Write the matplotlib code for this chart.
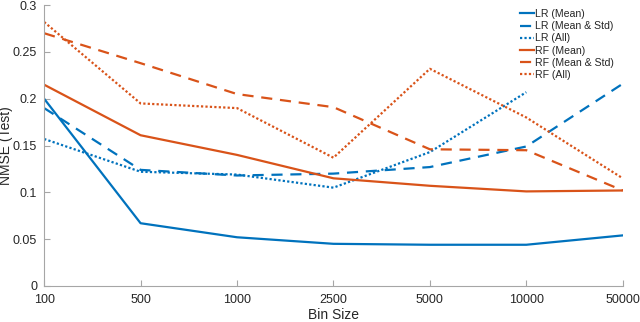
import matplotlib
matplotlib.use("Agg")
import matplotlib.pyplot as plt
import numpy as np

plt.rcParams["font.family"] = ["Liberation Sans", "DejaVu Sans"]

bins = ["100", "500", "1000", "2500", "5000", "10000", "50000"]

lr_mean = [0.200, 0.067, 0.052, 0.045, 0.044, 0.044, 0.054]
lr_mean_std = [0.190, 0.124, 0.118, 0.120, 0.127, 0.149, 0.216]
lr_all = [0.157, 0.122, 0.119, 0.105, 0.143, 0.207]
rf_mean = [0.215, 0.161, 0.140, 0.115, 0.107, 0.101, 0.102]
rf_mean_std = [0.270, 0.238, 0.205, 0.191, 0.146, 0.145, 0.102]
rf_all = [0.282, 0.195, 0.190, 0.137, 0.232, 0.180, 0.115]

blue = "#0072BD"
orange = "#D95319"

fig = plt.figure(figsize=(6.4, 3.22), dpi=100)
ax = fig.add_axes([0.069, 0.112, 0.904, 0.872])

x = np.arange(len(bins))
lw = 1.6
ax.plot(x, lr_mean, color=blue, lw=lw, ls="-", label="LR (Mean)")
ax.plot(x, lr_mean_std, color=blue, lw=lw, ls=(0, (5, 3.5)), label="LR (Mean & Std)")
ax.plot(x[:len(lr_all)], lr_all, color=blue, lw=lw, ls=(0, (1, 1)), label="LR (All)")
ax.plot(x, rf_mean, color=orange, lw=lw, ls="-", label="RF (Mean)")
ax.plot(x, rf_mean_std, color=orange, lw=lw, ls=(0, (5, 3.5)), label="RF (Mean & Std)")
ax.plot(x, rf_all, color=orange, lw=lw, ls=(0, (1, 1)), label="RF (All)")

ax.set_xlim(0, len(bins) - 1)
ax.set_ylim(0, 0.3)
ax.set_xticks(x)
ax.set_xticklabels(bins)
ax.set_yticks([0, 0.05, 0.1, 0.15, 0.2, 0.25, 0.3])
ax.set_yticklabels(["0", "0.05", "0.1", "0.15", "0.2", "0.25", "0.3"])

for s in ["top", "right"]:
    ax.spines[s].set_visible(False)
for s in ["left", "bottom"]:
    ax.spines[s].set_color("#a6a6a6")
    ax.spines[s].set_linewidth(0.8)
ax.tick_params(direction="in", length=4, color="#a6a6a6", labelsize=9,
               labelcolor="#262626")
ax.tick_params(axis="y", pad=5)
ax.tick_params(axis="x", pad=6)

ax.set_xlabel("Bin Size", fontsize=10, color="#262626", labelpad=1)
ax.set_ylabel("NMSE (Test)", fontsize=10, color="#262626")
ax.yaxis.set_label_coords(-0.053, 0.5)

leg = ax.legend(loc="upper right", bbox_to_anchor=(0.997, 1.012), frameon=False,
                fontsize=7.6, handlelength=1.3, handletextpad=0.1,
                labelspacing=0.2, borderaxespad=0.3)
for t in leg.get_texts():
    t.set_color("#262626")

fig.savefig("out.png", dpi=100)
